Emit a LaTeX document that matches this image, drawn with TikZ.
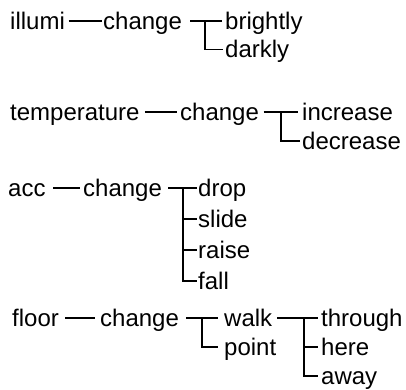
\documentclass[tikz,border=0pt]{standalone}
\usepackage{fontspec}
\setmainfont{Liberation Sans}
\begin{document}
\begin{tikzpicture}[x=1pt,y=-1pt,
  word/.style={anchor=west,inner sep=0pt,text height=20pt,text depth=4pt,
    font=\fontsize{24}{28}\selectfont},
  link/.style={line width=1.8pt,black}]
\useasboundingbox (0,0) rectangle (406,389);

% illumi
\node[word] (il) at (10,21) {illumi};
\node[word] (c1) at (103,21) {change};
\node[word] (br) at (225,21) {brightly};
\node[word] (dk) at (225,49.5) {darkly};
\coordinate (j1) at (205,21);
\draw[link] ([xshift=3.5pt]il.east) -- ([xshift=-1pt]c1.west);
\draw[link] ([xshift=8pt]c1.east) -- ([xshift=-3pt]br.west);
\draw[link] (j1) |- ([xshift=-2pt]dk.west);

% temperature
\node[word] (tp) at (10,112) {temperature};
\node[word] (c2) at (180,112) {change};
\node[word] (in) at (302,112) {increase};
\node[word] (de) at (302,141) {decrease};
\coordinate (j2) at (281,112);
\draw[link] ([xshift=5pt]tp.east) -- ([xshift=-3pt]c2.west);
\draw[link] ([xshift=4.5pt]c2.east) -- ([xshift=-4pt]in.west);
\draw[link] (j2) |- ([xshift=-2pt]de.west);

% acc
\node[word] (ac) at (8,188) {acc};
\node[word] (c3) at (83,188) {change};
\node[word] (dr) at (198,188) {drop};
\node[word] (sl) at (198,219) {slide};
\node[word] (ra) at (198,250) {raise};
\node[word] (fa) at (198,281) {fall};
\coordinate (j3) at (183,188);
\draw[link] ([xshift=7.5pt]ac.east) -- ([xshift=-3pt]c3.west);
\draw[link] ([xshift=6pt]c3.east) -- ([xshift=-1pt]dr.west);
\draw[link] (j3) |- ([xshift=-1pt]fa.west);
\draw[link] (j3 |- sl.west) -- ([xshift=-1pt]sl.west);
\draw[link] (j3 |- ra.west) -- ([xshift=-1pt]ra.west);

% floor
\node[word] (fl) at (12,318) {floor};
\node[word] (c4) at (100,318) {change};
\node[word] (wa) at (224,318) {walk};
\node[word] (po) at (224,347) {point};
\node[word] (th) at (321,318) {through};
\node[word] (he) at (321,347) {here};
\node[word] (aw) at (321,376) {away};
\coordinate (j4) at (202,318);
\coordinate (j5) at (304,318);
\draw[link] ([xshift=6pt]fl.east) -- ([xshift=-5pt]c4.west);
\draw[link] ([xshift=7pt]c4.east) -- ([xshift=-6pt]wa.west);
\draw[link] (j4) |- ([xshift=-6pt]po.west);
\draw[link] ([xshift=5pt]wa.east) -- ([xshift=-3pt]th.west);
\draw[link] (j5) |- ([xshift=-3pt]aw.west);
\draw[link] (j5 |- he.west) -- ([xshift=-3pt]he.west);
\end{tikzpicture}
\end{document}
